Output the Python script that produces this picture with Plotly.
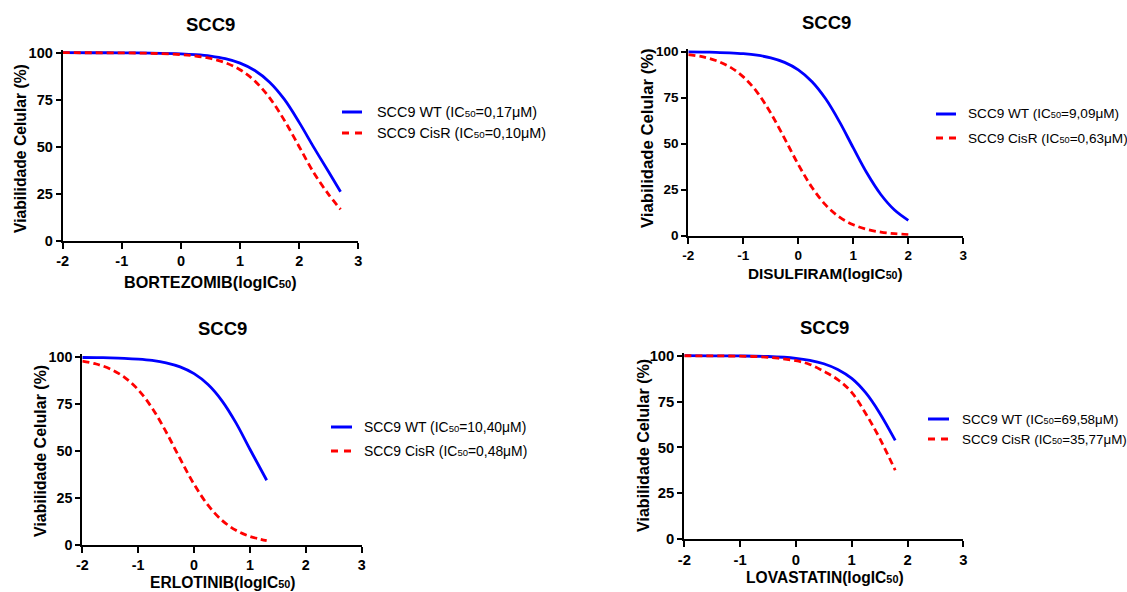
import plotly.graph_objects as go

# ---------------- data ----------------
x_ticks = [-2, -1, 0, 1, 2, 3]
x_tick_text = ["-2", "-1", "0", "1", "2", "3"]
y_ticks = [0, 25, 50, 75, 100]
y_tick_text = ["0", "25", "50", "75", "100"]

titles = ["SCC9", "SCC9", "SCC9", "SCC9"]
drugs = ["BORTEZOMIB", "DISULFIRAM", "ERLOTINIB", "LOVASTATIN"]
ic50_wt = ["0,17", "9,09", "10,40", "69,58"]
ic50_cisr = ["0,10", "0,63", "0,48", "35,77"]

bort_x = [-2, -1.5, -1, -0.5, 0, 0.25, 0.5, 0.75, 1, 1.25, 1.5, 1.75, 2, 2.25, 2.5, 2.7]
bort_wt = [100.0, 99.98, 99.94, 99.81, 99.41, 98.96, 98.17, 96.80, 94.44, 90.52, 84.30, 75.13, 62.94, 49.5, 36.5, 26.0]
bort_cisr = [100.0, 99.97, 99.90, 99.68, 99.01, 98.25, 96.94, 94.68, 90.91, 84.91, 75.97, 64.01, 50.0, 36.0, 24.5, 16.7]

disu_x = [-2, -1.75, -1.5, -1.25, -1, -0.75, -0.5, -0.25, 0, 0.25, 0.5, 0.75, 1, 1.25, 1.5, 1.75, 2]
disu_wt = [99.89, 99.81, 99.65, 99.39, 98.92, 98.09, 96.65, 94.19, 90.12, 83.68, 74.26, 61.86, 47.70, 33.90, 22.39, 13.95, 8.36]
disu_cisr = [98.44, 97.26, 95.23, 91.82, 86.32, 78.02, 66.61, 52.87, 38.69, 26.19, 16.63, 10.09, 5.93, 3.43, 1.96, 1.11, 0.63]

erlo_x = [-2, -1.75, -1.5, -1.25, -1, -0.75, -0.5, -0.25, 0, 0.25, 0.5, 0.75, 1, 1.3]
erlo_wt = [99.90, 99.83, 99.70, 99.47, 99.05, 98.33, 97.07, 94.90, 91.28, 85.48, 76.81, 65.06, 51.0, 34.5]
erlo_cisr = [97.95, 96.42, 93.80, 89.49, 82.72, 72.91, 60.22, 45.98, 32.37, 21.21, 13.15, 7.84, 4.57, 2.34]

lova_x = [-2, -1.5, -1, -0.5, 0, 0.25, 0.5, 0.75, 1, 1.25, 1.5, 1.78]
lova_wt = [99.99, 99.95, 99.86, 99.55, 98.58, 97.49, 95.63, 92.48, 87.6, 79.8, 68.8, 53.8]
lova_cisr = [99.97, 99.91, 99.72, 99.12, 97.26, 95.23, 91.5, 87.0, 80.0, 68.5, 55.0, 37.5]

panel_x = [bort_x, disu_x, erlo_x, lova_x]
panel_wt = [bort_wt, disu_wt, erlo_wt, lova_wt]
panel_cisr = [bort_cisr, disu_cisr, erlo_cisr, lova_cisr]

# ---------------- layout geometry (pixels) ----------------
W, H = 1127, 592
# left px, right px, px of y=0, px of y=100
boxes = [(62.7, 358.3, 240.7, 52.7),
         (688.3, 963.3, 235.7, 51.7),
         (82.3, 361.7, 545.0, 357.3),
         (684.3, 963.3, 539.0, 355.7)]
YMAX = 101.5
title_pos = [(210, 24), (826, 23), (222, 328), (824, 327)]
xtitle_pos = [(210, 282), (825, 273), (223, 582), (825, 577)]
ytitle_pos = [(20, 149), (647, 138), (40, 451), (643, 446)]
# legend: line x0, x1, text x, blue y, red y
legend_pos = [(342, 362, 375, 112, 133),
              (936, 956, 966, 114, 138),
              (331, 352, 362, 427, 451),
              (928, 949, 960, 419, 439)]
tick_fs = [14.5, 13.5, 14.3, 14.8]
xtitle_fs = [16.2, 15.3, 15.6, 15.6]
ytitle_fs = [15.7, 16.7, 16.0, 16.1]
legend_fs = [14.4, 13.6, 13.9, 13.4]

BLUE = "#0000FF"
RED = "#FF0000"
FONT = "Liberation Sans, Arial, sans-serif"

fig = go.Figure()
shapes = []
annotations = []

for i in range(4):
    sfx = "" if i == 0 else str(i + 1)
    xl, xr, y0, y100 = boxes[i]
    ytop = y0 - (y0 - y100) * YMAX / 100.0
    fig.add_trace(go.Scatter(
        x=panel_x[i], y=panel_wt[i], mode="lines",
        name=f"SCC9 WT (IC50={ic50_wt[i]}μM)",
        line=dict(color=BLUE, width=2.8, shape="spline"),
        xaxis="x" + sfx, yaxis="y" + sfx, showlegend=False, hoverinfo="skip"))
    fig.add_trace(go.Scatter(
        x=panel_x[i], y=panel_cisr[i], mode="lines",
        name=f"SCC9 CisR (IC50={ic50_cisr[i]}μM)",
        line=dict(color=RED, width=2.8, shape="spline", dash="7px,4px"),
        xaxis="x" + sfx, yaxis="y" + sfx, showlegend=False, hoverinfo="skip"))

    common = dict(showgrid=False, zeroline=False, showline=True, linewidth=2,
                  linecolor="black", ticks="outside", tickwidth=2, tickcolor="black",
                  automargin=False,
                  tickfont=dict(family=FONT, size=tick_fs[i], color="black", weight="bold"))
    fig.update_layout(**{
        "xaxis" + sfx: dict(domain=[xl / W, xr / W], range=[-2, 3], tickvals=x_ticks,
                            ticktext=x_tick_text, ticklen=6, anchor="y" + sfx, **common),
        "yaxis" + sfx: dict(domain=[1 - y0 / H, 1 - ytop / H], range=[0, YMAX], tickvals=y_ticks,
                            ticktext=y_tick_text, ticklen=5, anchor="x" + sfx, **common),
    })

    tx, ty = title_pos[i]
    annotations.append(dict(x=tx / W, y=1 - ty / H, xref="paper", yref="paper", text=titles[i],
                            showarrow=False, xanchor="center", yanchor="middle",
                            font=dict(family=FONT, size=18.5, color="black", weight="bold")))
    sub = xtitle_fs[i] * 0.7
    ax, ay = xtitle_pos[i]
    annotations.append(dict(x=ax / W, y=1 - ay / H, xref="paper", yref="paper",
                            text=f'{drugs[i]}(logIC<span style="font-size:{sub:.1f}px">50</span>)',
                            showarrow=False, xanchor="center", yanchor="middle",
                            font=dict(family=FONT, size=xtitle_fs[i], color="black", weight="bold")))
    yx, yy = ytitle_pos[i]
    annotations.append(dict(x=yx / W, y=1 - yy / H, xref="paper", yref="paper",
                            text="Viabilidade Celular (%)", textangle=-90,
                            showarrow=False, xanchor="center", yanchor="middle",
                            font=dict(family=FONT, size=ytitle_fs[i], color="black", weight="bold")))

    lx0, lx1, ltx, lby, lry = legend_pos[i]
    shapes.append(dict(type="line", xref="paper", yref="paper", x0=lx0 / W, x1=lx1 / W,
                       y0=1 - lby / H, y1=1 - lby / H, line=dict(color=BLUE, width=3)))
    shapes.append(dict(type="line", xref="paper", yref="paper", x0=lx0 / W, x1=lx1 / W,
                       y0=1 - lry / H, y1=1 - lry / H, line=dict(color=RED, width=3, dash="7px,6px")))
    lsub = legend_fs[i] * 0.68
    annotations.append(dict(x=ltx / W, y=1 - lby / H, xref="paper", yref="paper",
                            text=f'SCC9 WT (IC<span style="font-size:{lsub:.1f}px">50</span>={ic50_wt[i]}μM)',
                            showarrow=False, xanchor="left", yanchor="middle",
                            font=dict(family=FONT, size=legend_fs[i], color="black")))
    annotations.append(dict(x=ltx / W, y=1 - lry / H, xref="paper", yref="paper",
                            text=f'SCC9 CisR (IC<span style="font-size:{lsub:.1f}px">50</span>={ic50_cisr[i]}μM)',
                            showarrow=False, xanchor="left", yanchor="middle",
                            font=dict(family=FONT, size=legend_fs[i], color="black")))

fig.update_layout(width=W, height=H, autosize=False, template="none",
                  margin=dict(l=0, r=0, t=0, b=0, pad=0, autoexpand=False),
                  paper_bgcolor="white", plot_bgcolor="white", hovermode=False,
                  showlegend=False, shapes=shapes, annotations=annotations)

fig.write_html("out.html", config={"displayModeBar": False, "staticPlot": True},
               post_script="document.body.style.margin='0';document.body.style.overflow='hidden';")
